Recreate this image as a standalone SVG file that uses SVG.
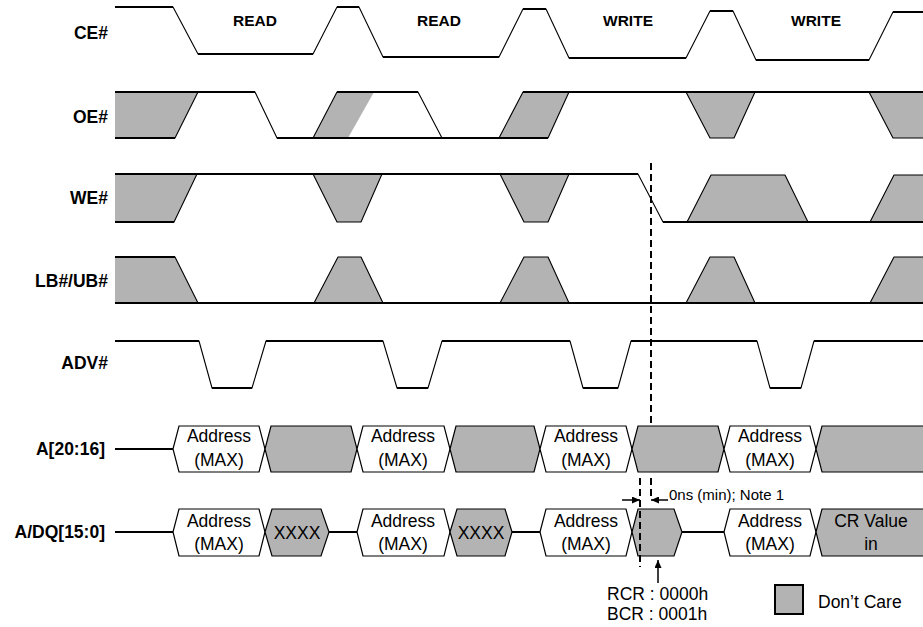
<svg xmlns="http://www.w3.org/2000/svg" width="923" height="627" viewBox="0 0 923 627">
<style>
.sig{fill:none;stroke:#000;stroke-width:1.1;stroke-linejoin:round}
.hz{fill:none;stroke:#000;stroke-width:2.2}
.dc{fill:#b3b3b3;stroke:none}
.hw{fill:#fff;stroke:#000;stroke-width:1.2}
.hg{fill:#b3b3b3;stroke:#000;stroke-width:1.2}
.lbl{font-family:"Liberation Sans",Arial,sans-serif;font-weight:bold;font-size:17.5px;text-anchor:end;fill:#000}
.cyc{font-family:"Liberation Sans",Arial,sans-serif;font-weight:bold;font-size:15.5px;text-anchor:middle;fill:#000}
.ht{font-family:"Liberation Sans",Arial,sans-serif;font-size:17.5px;text-anchor:middle;fill:#000}
.nt{font-family:"Liberation Sans",Arial,sans-serif;font-size:17.5px;fill:#000}
.dash{fill:none;stroke:#000;stroke-width:2;stroke-dasharray:7 4}
.arr{fill:none;stroke:#000;stroke-width:1.5}
</style>
<defs>
<marker id="ah" markerWidth="8" markerHeight="7" refX="8" refY="3.5" orient="auto" markerUnits="userSpaceOnUse">
<path d="M0,0 L8,3.5 L0,7 z" fill="#000"/>
</marker>
</defs>
<rect width="923" height="627" fill="#fff"/>

<g id="cycles">
<text class="cyc" x="255" y="26">READ</text>
<text class="cyc" x="439" y="26">READ</text>
<text class="cyc" x="628" y="26">WRITE</text>
<text class="cyc" x="816" y="26">WRITE</text>
</g>

<g id="ce">
<text class="lbl" x="108" y="39">CE#</text>
<path class="sig" d="M115,7 H173 L198,54 H313 L337,7 H359 L383,57 H499 L523,9 H546 L569,58 H686 L710,11 H733 L756,60 H869 L893,12 H923"/>
<path class="hz" d="M115,7 H173 M198,54 H313 M337,7 H359 M383,57 H499 M523,9 H546 M569,58 H686 M710,11 H733 M756,60 H869 M893,12 H923"/>
</g>

<g id="oe">
<text class="lbl" x="108" y="123">OE#</text>
<polygon class="dc" points="115,92 198,92 175,138 115,138"/>
<polygon class="dc" points="313,138 337,92 374,92 348,138"/>
<polygon class="dc" points="499,138 523,92 569,92 548,138"/>
<polygon class="dc" points="686,92 710,138 734,138 755,92"/>
<polygon class="dc" points="869,92 893,138 923,138 923,92"/>
<path class="sig" d="M115,92 H255 L277,138 H548 M115,138 H175 L198,92 M313,138 L337,92 H418 L442,138 M499,138 L523,92 H923 M548,138 L569,92 M686,92 L710,138 H734 L755,92 M869,92 L893,138 H923"/>
<path class="hz" d="M115,92 H255 M277,138 H548 M115,138 H175 M337,92 H418 M523,92 H923"/>
</g>

<g id="we">
<text class="lbl" x="108" y="204">WE#</text>
<polygon class="dc" points="115,174 197,174 174,222 115,222"/>
<polygon class="dc" points="313,174 337,222 361,222 382,174"/>
<polygon class="dc" points="500,174 524,222 548,222 569,174"/>
<polygon class="dc" points="687,222 711,175 785,175 808,222"/>
<polygon class="dc" points="870,222 894,175 923,175 923,222"/>
<path class="sig" d="M115,174 H638 L663,222 H923 M115,222 H174 L197,174 M313,174 L337,222 H361 L382,174 M500,174 L524,222 H548 L569,174 M687,222 L711,175 H785 L808,222 M870,222 L894,175 H923"/>
<path class="hz" d="M115,174 H638 M663,222 H923 M115,222 H174"/>
</g>

<g id="lbub">
<text class="lbl" x="108" y="287">LB#/UB#</text>
<polygon class="dc" points="115,257 175,257 198,303 115,303"/>
<polygon class="dc" points="314,303 338,257 361,257 383,303"/>
<polygon class="dc" points="500,303 524,257 548,257 569,303"/>
<polygon class="dc" points="686,303 710,257 734,257 755,303"/>
<polygon class="dc" points="870,303 894,257 923,257 923,303"/>
<path class="sig" d="M115,303 H923 M115,257 H175 L198,303 M314,303 L338,257 H361 L383,303 M500,303 L524,257 H548 L569,303 M686,303 L710,257 H734 L755,303 M870,303 L894,257 H923"/>
<path class="hz" d="M115,303 H923 M115,257 H175"/>
</g>

<g id="adv">
<text class="lbl" x="108" y="369">ADV#</text>
<path class="sig" d="M115,341 H199 L212,388 H252 L266,341 H383 L397,388 H428 L442,341 H570 L583,388 H618 L631,341 H757 L770,388 H801 L814,341 H923"/>
<path class="hz" d="M115,341 H199 M212,388 H252 M266,341 H383 M397,388 H428 M442,341 H570 M583,388 H618 M631,341 H757 M770,388 H801 M814,341 H923"/>
</g>

<g id="addr">
<text class="lbl" x="105" y="455">A[20:16]</text>
<path class="hz" d="M115,449 H173"/>
<polygon class="hw" points="173,449 179,426 259,426 265,449 259,472 179,472"/>
<polygon class="hg" points="265,449 271,426 351,426 357,449 351,472 271,472"/>
<polygon class="hw" points="357,449 363,426 444,426 450,449 444,472 363,472"/>
<polygon class="hg" points="450,449 456,426 534,426 540,449 534,472 456,472"/>
<polygon class="hw" points="540,449 546,426 626,426 632,449 626,472 546,472"/>
<polygon class="hg" points="632,449 638,426 718,426 724,449 718,472 638,472"/>
<polygon class="hw" points="724,449 730,426 810,426 816,449 810,472 730,472"/>
<polygon class="hg" points="816,449 822,426 930,426 930,472 822,472"/>
<text class="ht" x="219" y="442">Address</text><text class="ht" x="219" y="466">(MAX)</text>
<text class="ht" x="403" y="442">Address</text><text class="ht" x="403" y="466">(MAX)</text>
<text class="ht" x="586" y="442">Address</text><text class="ht" x="586" y="466">(MAX)</text>
<text class="ht" x="770" y="442">Address</text><text class="ht" x="770" y="466">(MAX)</text>
</g>

<g id="adq">
<text class="lbl" x="105" y="538">A/DQ[15:0]</text>
<path class="hz" d="M115,532 H173 M329,532 H357 M512,532 H540 M682,532 H724"/>
<polygon class="hw" points="173,532 179,509 259,509 265,532 259,556 179,556"/>
<polygon class="hg" points="265,532 272,509 321,509 329,532 321,556 272,556"/>
<polygon class="hw" points="357,532 363,509 444,509 450,532 444,556 363,556"/>
<polygon class="hg" points="450,532 457,509 505,509 512,532 505,556 457,556"/>
<polygon class="hw" points="540,532 546,509 626,509 632,532 626,556 546,556"/>
<polygon class="hg" points="632,532 638,509 674,509 682,532 674,556 638,556"/>
<polygon class="hw" points="724,532 730,509 810,509 816,532 810,556 730,556"/>
<polygon class="hg" points="816,532 822,509 930,509 930,556 822,556"/>
<text class="ht" x="219" y="527">Address</text><text class="ht" x="219" y="550">(MAX)</text>
<text class="ht" x="297" y="539">XXXX</text>
<text class="ht" x="403" y="527">Address</text><text class="ht" x="403" y="550">(MAX)</text>
<text class="ht" x="481" y="539">XXXX</text>
<text class="ht" x="586" y="527">Address</text><text class="ht" x="586" y="550">(MAX)</text>
<text class="ht" x="770" y="527">Address</text><text class="ht" x="770" y="550">(MAX)</text>
<text class="ht" x="871" y="527">CR Value</text><text class="ht" x="871" y="550">in</text>
</g>

<g id="connectors">
<path class="dash" d="M651,163 V425 M651,478 V497 M640,478 V567"/>
<line class="arr" x1="622" y1="500" x2="640" y2="500" marker-end="url(#ah)"/>
<line class="arr" x1="668" y1="500" x2="651" y2="500" marker-end="url(#ah)"/>
<line class="arr" x1="658" y1="583" x2="658" y2="560" marker-end="url(#ah)"/>
</g>

<g id="notes">
<text class="nt" x="669" y="500" style="font-size:15px">0ns (min); Note 1</text>
<text class="nt" x="607" y="600">RCR : 0000h</text>
<text class="nt" x="607" y="620">BCR : 0001h</text>
</g>

<g id="legend">
<rect x="775" y="585" width="28" height="29" fill="#b3b3b3" stroke="#000" stroke-width="2"/>
<text class="nt" x="818" y="608">Don’t Care</text>
</g>
</svg>
